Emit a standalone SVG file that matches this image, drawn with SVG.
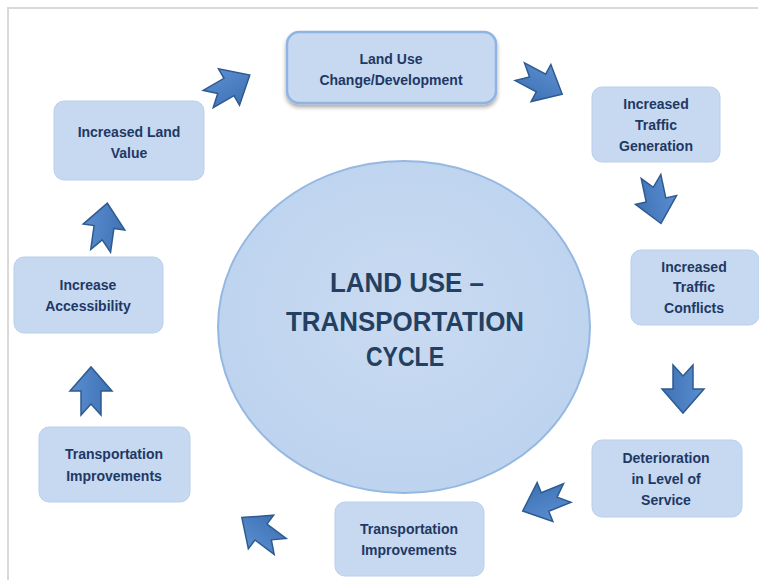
<svg xmlns="http://www.w3.org/2000/svg" width="759" height="580" viewBox="0 0 759 580">
<defs>
<style>
.box{fill:#c6d9f1;stroke:#b9cfec;stroke-width:1}
.lbl{font-family:"Liberation Sans",Arial,sans-serif;font-weight:bold;font-size:14px;fill:#1f3864;text-anchor:middle}
.big{font-family:"Liberation Sans",Arial,sans-serif;font-weight:bold;font-size:27px;fill:#243f60;text-anchor:middle}
.arr{fill:url(#ag);stroke:#2e5b8f;stroke-width:1.5;stroke-linejoin:miter}
</style>
<linearGradient id="ag" x1="0" y1="0" x2="0" y2="1">
<stop offset="0" stop-color="#5a8ed0"/>
<stop offset="1" stop-color="#3f72b4"/>
</linearGradient>
<radialGradient id="eg" cx="0.5" cy="0.45" r="0.6">
<stop offset="0" stop-color="#c9dbf2"/>
<stop offset="1" stop-color="#bcd2ee"/>
</radialGradient>
<filter id="sh" x="-10%" y="-10%" width="120%" height="130%">
<feGaussianBlur in="SourceAlpha" stdDeviation="2"/>
<feOffset dx="0" dy="3"/>
<feComponentTransfer><feFuncA type="linear" slope="0.35"/></feComponentTransfer>
<feMerge><feMergeNode/><feMergeNode in="SourceGraphic"/></feMerge>
</filter>
<polygon id="arrow" points="-24,-10 0,-10 0,-21 24,0 0,21 0,10 -24,10 -13,0"/>
</defs>
<rect width="759" height="580" fill="#ffffff"/>
<path d="M8,580 V8 H758" fill="none" stroke="#d9d9d9" stroke-width="2"/>

<g id="center">
<ellipse cx="404" cy="327" rx="186" ry="166" fill="url(#eg)" stroke="#95b8e2" stroke-width="2"/>
<text class="big" x="407" y="292" textLength="154" lengthAdjust="spacingAndGlyphs">LAND USE –</text>
<text class="big" x="405" y="331" textLength="238" lengthAdjust="spacingAndGlyphs">TRANSPORTATION</text>
<text class="big" x="405" y="366" textLength="78" lengthAdjust="spacingAndGlyphs">CYCLE</text>
</g>

<g id="n1">
<rect x="287" y="32" width="209" height="71" rx="12" fill="#c6d9f1" stroke="#8eb4e3" stroke-width="2.5" filter="url(#sh)"/>
<text class="lbl" x="391" y="64">Land Use</text>
<text class="lbl" x="391" y="85">Change/Development</text>
</g>
<g id="n2">
<rect class="box" x="592" y="87" width="128" height="75" rx="10"/>
<text class="lbl" x="656" y="109">Increased</text>
<text class="lbl" x="656" y="130">Traffic</text>
<text class="lbl" x="656" y="151">Generation</text>
</g>
<g id="n3">
<rect class="box" x="631" y="250" width="128" height="75" rx="10"/>
<text class="lbl" x="694" y="272">Increased</text>
<text class="lbl" x="694" y="292">Traffic</text>
<text class="lbl" x="694" y="313">Conflicts</text>
</g>
<g id="n4">
<rect class="box" x="592" y="440" width="150" height="77" rx="10"/>
<text class="lbl" x="666" y="463">Deterioration</text>
<text class="lbl" x="666" y="484">in Level of</text>
<text class="lbl" x="666" y="505">Service</text>
</g>
<g id="n5">
<rect class="box" x="335" y="502" width="149" height="74" rx="10"/>
<text class="lbl" x="409" y="534">Transportation</text>
<text class="lbl" x="409" y="555">Improvements</text>
</g>
<g id="n6">
<rect class="box" x="39" y="427" width="151" height="75" rx="10"/>
<text class="lbl" x="114" y="459">Transportation</text>
<text class="lbl" x="114" y="481">Improvements</text>
</g>
<g id="n7">
<rect class="box" x="14" y="257" width="149" height="76" rx="10"/>
<text class="lbl" x="88" y="290">Increase</text>
<text class="lbl" x="88" y="311">Accessibility</text>
</g>
<g id="n8">
<rect class="box" x="54" y="101" width="150" height="79" rx="10"/>
<text class="lbl" x="129" y="137">Increased Land</text>
<text class="lbl" x="129" y="158">Value</text>
</g>

<g id="connectors">
<use href="#arrow" class="arr" transform="translate(229,87) rotate(-30)"/>
<use href="#arrow" class="arr" transform="translate(541,83) rotate(28)"/>
<use href="#arrow" class="arr" transform="translate(656,200) rotate(78)"/>
<use href="#arrow" class="arr" transform="translate(683,389) rotate(90)"/>
<use href="#arrow" class="arr" transform="translate(545,502) rotate(158)"/>
<use href="#arrow" class="arr" transform="translate(261,532) rotate(-143)"/>
<use href="#arrow" class="arr" transform="translate(91,391) rotate(-90)"/>
<use href="#arrow" class="arr" transform="translate(104,227) rotate(-82)"/>
</g>
</svg>
